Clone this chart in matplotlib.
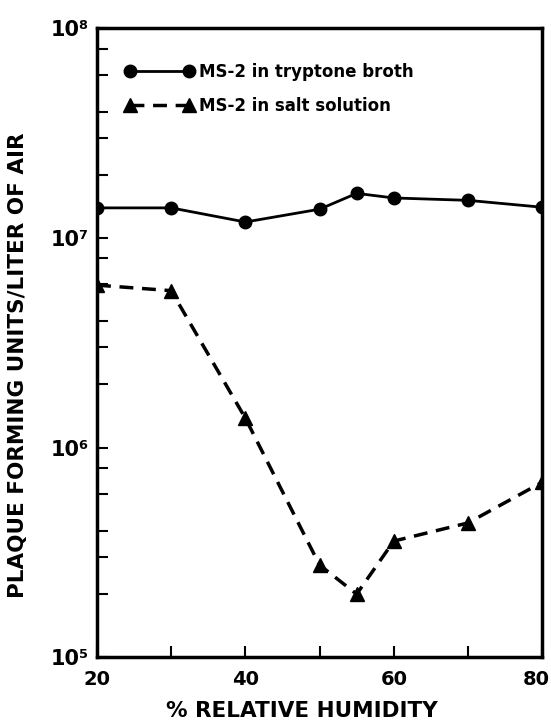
import matplotlib.pyplot as plt
from matplotlib.ticker import FixedLocator, NullFormatter
from matplotlib.transforms import ScaledTranslation

# relative humidity (%) at which samples were taken
humidity = [20, 30, 40, 50, 55, 60, 70, 80]
# plaque forming units per liter of air
tryptone_broth = [1.39e7, 1.39e7, 1.19e7, 1.37e7, 1.63e7, 1.55e7, 1.51e7, 1.40e7]
salt_solution = [5.95e6, 5.6e6, 1.38e6, 2.75e5, 2.0e5, 3.58e5, 4.37e5, 6.83e5]

x_ticks = [20, 40, 60, 80]
x_tick_labels = ['20', '40', '60', '80']
y_ticks = [1e5, 1e6, 1e7, 1e8]
y_tick_labels = ['10⁵', '10⁶', '10⁷', '10⁸']

plt.rcParams['font.family'] = ['DejaVu Sans']
plt.rcParams['font.weight'] = 'bold'

fig = plt.figure(figsize=(5.51, 7.23), dpi=100)
ax = fig.add_axes([0.176, 0.091, 0.808, 0.870])

ax.plot(humidity, tryptone_broth, color='black', linewidth=2, marker='o',
        markersize=9, label='MS-2 in tryptone broth')
ax.plot(humidity, salt_solution, color='black', linewidth=2.5, linestyle=(0, (4, 2.5)),
        marker='^', markersize=10, label='MS-2 in salt solution')

ax.set_yscale('log')
ax.set_xlim(20, 80)
ax.set_ylim(1e5, 1e8)

ax.set_xticks(x_ticks)
ax.set_xticklabels(x_tick_labels)
ax.xaxis.set_minor_locator(FixedLocator([30, 50, 70]))
ax.set_yticks(y_ticks)
ax.set_yticklabels(y_tick_labels)
ax.yaxis.set_minor_locator(FixedLocator(
    [m * 10.0 ** e for e in (5, 6, 7) for m in (2, 3, 4, 6, 8)]))
ax.yaxis.set_minor_formatter(NullFormatter())

ax.tick_params(which='both', direction='in', width=1.5, length=8)
ax.tick_params(axis='x', labelsize=14, pad=9)
ax.tick_params(axis='y', labelsize=15, pad=6)
for lab in ax.get_xticklabels() + ax.get_yticklabels():
    lab.set_fontweight('bold')
# keep the last x label inside the figure edge
last = ax.get_xticklabels()[-1]
last.set_transform(last.get_transform() + ScaledTranslation(-6 / 100, 0, fig.dpi_scale_trans))

for side in ax.spines.values():
    side.set_linewidth(2.5)

ax.set_xlabel('% RELATIVE HUMIDITY', fontsize=15.5, fontweight='bold')
ax.xaxis.set_label_coords(0.461, -0.07)
ax.set_ylabel('PLAQUE FORMING UNITS/LITER OF AIR', fontsize=15.5, fontweight='bold')
ax.yaxis.set_label_coords(-0.155, 0.464)

leg = ax.legend(loc='upper left', bbox_to_anchor=(0.030, 0.968), frameon=False,
                numpoints=2, handlelength=4.15, handletextpad=0.3, labelspacing=0.95,
                prop={'size': 12, 'weight': 'bold'})

plt.savefig('out.png', dpi=100)
